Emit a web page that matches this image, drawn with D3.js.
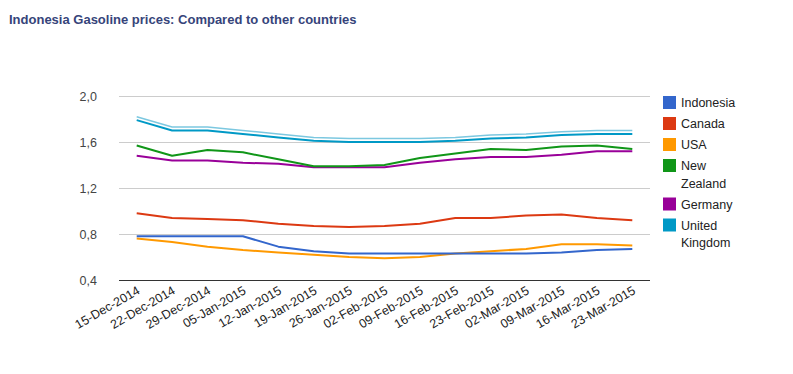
<!DOCTYPE html>
<html>
<head>
<meta charset="utf-8">
<script src="https://cdn.jsdelivr.net/npm/d3@7"></script>
<style>
  html, body { margin: 0; padding: 0; background: #fff; }
  svg { display: block; font-family: Arial, "Liberation Sans", sans-serif; }
</style>
</head>
<body>
<svg id="chart" width="793" height="374"></svg>
<script>
// Indonesia gasoline prices vs other countries (weekly, USD/litre)
const weeks = ['15-Dec-2014', '22-Dec-2014', '29-Dec-2014', '05-Jan-2015', '12-Jan-2015',
  '19-Jan-2015', '26-Jan-2015', '02-Feb-2015', '09-Feb-2015', '16-Feb-2015',
  '23-Feb-2015', '02-Mar-2015', '09-Mar-2015', '16-Mar-2015', '23-Mar-2015'];

const indonesia = [0.78, 0.78, 0.78, 0.78, 0.69, 0.65, 0.63, 0.63, 0.63, 0.63, 0.63, 0.63, 0.64, 0.66, 0.67];
const canada    = [0.98, 0.94, 0.93, 0.92, 0.89, 0.87, 0.86, 0.87, 0.89, 0.94, 0.94, 0.96, 0.97, 0.94, 0.92];
const usa       = [0.76, 0.73, 0.69, 0.66, 0.64, 0.62, 0.60, 0.59, 0.60, 0.63, 0.65, 0.67, 0.71, 0.71, 0.70];
const newZealand = [1.57, 1.48, 1.53, 1.51, 1.45, 1.39, 1.39, 1.40, 1.46, 1.50, 1.54, 1.53, 1.56, 1.57, 1.54];
const germany   = [1.48, 1.44, 1.44, 1.42, 1.41, 1.38, 1.38, 1.38, 1.42, 1.45, 1.47, 1.47, 1.49, 1.52, 1.52];
const uk        = [1.79, 1.70, 1.70, 1.67, 1.64, 1.61, 1.60, 1.60, 1.60, 1.61, 1.63, 1.64, 1.66, 1.67, 1.67];
// second, lighter UK trace drawn just above the main one (no legend entry)
const ukLight   = [1.82, 1.73, 1.73, 1.70, 1.67, 1.64, 1.63, 1.63, 1.63, 1.64, 1.66, 1.67, 1.69, 1.70, 1.70];

const yTicks = [0.4, 0.8, 1.2, 1.6, 2.0];

const series = [
  { name: 'Indonesia', values: indonesia, color: '#3366cc' },
  { name: 'Canada', values: canada, color: '#dc3912' },
  { name: 'USA', values: usa, color: '#ff9900' },
  { name: 'New Zealand', values: newZealand, color: '#109618', lines: ['New', 'Zealand'] },
  { name: 'Germany', values: germany, color: '#990099' },
  { name: 'United Kingdom', values: uk, color: '#0099c6', lines: ['United', 'Kingdom'] },
];

const svg = d3.select('#chart');
const W = 793, H = 374;
const m = { left: 119, right: 143, top: 96, bottom: 94 };

svg.append('text')
  .attr('x', 9).attr('y', 24)
  .attr('font-size', 13).attr('font-weight', 'bold')
  .attr('fill', '#36447a')
  .text('Indonesia Gasoline prices: Compared to other countries');

const x = d3.scaleBand().domain(weeks).range([m.left, W - m.right]);
const y = d3.scaleLinear().domain([0.4, 2.0]).range([H - m.bottom, m.top]);
const px = d => x(d) + x.bandwidth() / 2;

// gridlines + y labels
const g = svg.append('g');
g.selectAll('line.grid').data(yTicks).join('line')
  .attr('class', 'grid')
  .attr('x1', m.left).attr('x2', W - m.right)
  .attr('y1', d => Math.round(y(d)) + 0.5).attr('y2', d => Math.round(y(d)) + 0.5)
  .attr('stroke', d => d === 0.4 ? '#333' : '#cccccc')
  .attr('stroke-width', 1);

g.selectAll('text.ylab').data(yTicks).join('text')
  .attr('class', 'ylab')
  .attr('x', 97).attr('y', d => y(d) + 4.5)
  .attr('text-anchor', 'end')
  .attr('font-size', 12.5).attr('fill', '#444')
  .text(d => d3.format('.1f')(d).replace('.', ','));

// x labels, slanted
g.selectAll('text.xlab').data(weeks).join('text')
  .attr('class', 'xlab')
  .attr('text-anchor', 'end')
  .attr('font-size', 12.5).attr('fill', '#222')
  .attr('transform', d => `translate(${px(d) + 4},${H - m.bottom + 13}) rotate(-30)`)
  .text(d => d);

// lines
const line = d3.line().x((v, i) => px(weeks[i])).y(v => y(v));
const gl = svg.append('g').attr('fill', 'none').attr('stroke-linejoin', 'round');
gl.append('path').datum(ukLight)
  .attr('d', line).attr('stroke', '#7cc8e0').attr('stroke-width', 1.5);
gl.selectAll('path.s').data(series.slice().reverse()).join('path')
  .attr('class', 's')
  .attr('d', s => line(s.values))
  .attr('stroke', s => s.color).attr('stroke-width', 2);

// legend
const lg = svg.append('g').attr('transform', 'translate(663,96)');
let yy = 0;
series.forEach(s => {
  const row = lg.append('g').attr('transform', `translate(0,${yy})`);
  row.append('rect').attr('width', 13).attr('height', 13).attr('fill', s.color);
  const lines = s.lines || [s.name];
  lines.forEach((t, i) => {
    row.append('text').attr('x', 18).attr('y', 11 + i * 17.5)
      .attr('font-size', 12.5).attr('fill', '#222').text(t);
  });
  yy += 21 + (lines.length - 1) * 17.5;
});
</script>
</body>
</html>
